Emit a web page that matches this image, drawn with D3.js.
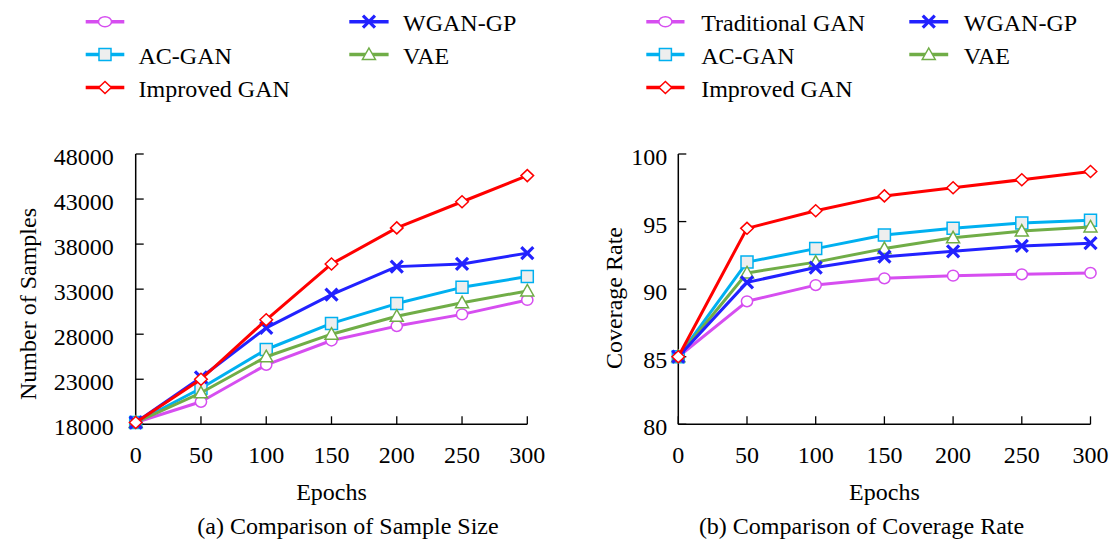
<!DOCTYPE html>
<html><head><meta charset="utf-8">
<script src="https://cdn.jsdelivr.net/npm/d3@7"></script>
<style>
html,body{margin:0;padding:0;background:#fff;}
svg text{font-family:"Liberation Serif","Times New Roman",serif;fill:#000;}
</style></head>
<body>
<svg id="chart" width="1114" height="542"></svg>
<script>
// ---------- data ----------
const epochs = [0, 50, 100, 150, 200, 250, 300];
const seriesNames = ["Traditional GAN", "AC-GAN", "VAE", "WGAN-GP", "Improved GAN"];
const seriesColors = ["#d64ef0", "#00b0f0", "#70ad47", "#2222ff", "#ff0000"];
const seriesMarkers = ["circle", "square", "triangle", "x", "diamond"];

const samplesTraditional = [18200, 20500, 24600, 27300, 28900, 30200, 31800];
const samplesACGAN       = [18200, 22000, 26300, 29200, 31400, 33200, 34400];
const samplesVAE         = [18200, 21500, 25500, 28000, 30000, 31500, 32800];
const samplesWGAN        = [18200, 23200, 28700, 32400, 35500, 35800, 37000];
const samplesImproved    = [18200, 23000, 29600, 35800, 39800, 42700, 45600];

const coverageTraditional = [85, 89.1, 90.3, 90.8, 91.0, 91.1, 91.2];
const coverageACGAN       = [85, 92.0, 93.0, 94.0, 94.5, 94.9, 95.1];
const coverageVAE         = [85, 91.2, 92.0, 93.0, 93.8, 94.3, 94.6];
const coverageWGAN        = [85, 90.5, 91.6, 92.4, 92.8, 93.2, 93.4];
const coverageImproved    = [85, 94.5, 95.8, 96.9, 97.5, 98.1, 98.7];

const samplesTicks = [18000, 23000, 28000, 33000, 38000, 43000, 48000];
const coverageTicks = [80, 85, 90, 95, 100];
const epochTicks = [0, 50, 100, 150, 200, 250, 300];

// legend labels per panel (panel a lacks the first label)
const legendLabelsA = ["", "AC-GAN", "VAE", "WGAN-GP", "Improved GAN"];
const legendLabelsB = ["Traditional GAN", "AC-GAN", "VAE", "WGAN-GP", "Improved GAN"];
// legend slot (col,row) per series
const legendSlots = [[0,0],[0,1],[1,1],[1,0],[0,2]];

const svg = d3.select("#chart");

function markerPath(shape) {
  switch (shape) {
    case "square": return "M-6,-6H6V6H-6Z";
    case "triangle": return "M0,-6.5L6.5,5L-6.5,5Z";
    case "diamond": return "M0,-6L6.3,0L0,6L-6.3,0Z";
    case "x": return "M-6,-6L6,6M-6,6L6,-6";
    default: return null;
  }
}
function drawMarker(g, shape, color, x, y, legend) {
  if (shape === "circle") {
    g.append("ellipse").attr("cx", x).attr("cy", y)
      .attr("rx", legend ? 6.5 : 5.6).attr("ry", legend ? 5 : 5.4)
      .attr("fill", "#fff").attr("stroke", color).attr("stroke-width", 1.5);
  } else if (shape === "x") {
    g.append("path").attr("transform", `translate(${x},${y})`).attr("d", markerPath(shape))
      .attr("fill", "none").attr("stroke", color).attr("stroke-width", 3.2);
  } else {
    g.append("path").attr("transform", `translate(${x},${y})`).attr("d", markerPath(shape))
      .attr("fill", shape === "square" ? "#eeeeee" : "#fff")
      .attr("stroke", color).attr("stroke-width", 1.5);
  }
}

function drawPanel(opt) {
  const g = svg.append("g");
  const x = d3.scaleLinear().domain([0, 300]).range([opt.x0, opt.x1]);
  const y = d3.scaleLinear().domain(opt.yDomain).range([424.3, 154]);

  // axes lines
  g.append("line").attr("x1", opt.x0).attr("x2", opt.x0).attr("y1", y.range()[1]).attr("y2", y.range()[0])
    .attr("stroke", "#000").attr("stroke-width", 1.5);
  g.append("line").attr("x1", opt.x0).attr("x2", opt.x1).attr("y1", y.range()[0]).attr("y2", y.range()[0])
    .attr("stroke", "#000").attr("stroke-width", 1.5);
  // y ticks (inward)
  opt.yTicks.forEach(t => {
    g.append("line").attr("x1", opt.x0).attr("x2", opt.x0 + 8).attr("y1", y(t)).attr("y2", y(t))
      .attr("stroke", "#000").attr("stroke-width", 1.3);
    g.append("text").attr("x", opt.x0 - opt.yLabelGap).attr("y", y(t) + 11)
      .attr("text-anchor", "end").attr("font-size", 24).text(t);
  });
  // x ticks (inward)
  epochTicks.forEach(t => {
    g.append("line").attr("x1", x(t)).attr("x2", x(t)).attr("y1", y.range()[0]).attr("y2", y.range()[0] - 8)
      .attr("stroke", "#000").attr("stroke-width", 1.3);
    g.append("text").attr("x", x(t)).attr("y", 463)
      .attr("text-anchor", "middle").attr("font-size", 24).text(t);
  });
  // axis titles
  g.append("text").attr("x", (opt.x0 + opt.x1) / 2).attr("y", 500)
    .attr("text-anchor", "middle").attr("font-size", 24).text("Epochs");
  g.append("text").attr("transform", `translate(${opt.yTitleX},${opt.yTitleY}) rotate(-90)`)
    .attr("text-anchor", "middle").attr("font-size", 24).text(opt.yTitle);
  g.append("text").attr("x", opt.captionX).attr("y", 534)
    .attr("text-anchor", "middle").attr("font-size", 24).text(opt.caption);

  // series lines
  const line = d3.line().x((d, i) => x(epochs[i])).y(d => y(d));
  opt.series.forEach((vals, si) => {
    g.append("path").attr("d", line(vals)).attr("fill", "none")
      .attr("stroke", seriesColors[si]).attr("stroke-width", 3).attr("stroke-linejoin", "round");
    vals.forEach((v, i) => drawMarker(g, seriesMarkers[si], seriesColors[si], x(epochs[i]), y(v), false));
  });

  // legend
  const lg = svg.append("g");
  opt.legendLabels.forEach((lab, si) => {
    const [c, r] = legendSlots[si];
    const col = opt.legendCols[c];
    const ly = [21.7, 54.5, 87.5][r];
    lg.append("line").attr("x1", col.l0).attr("x2", col.l1).attr("y1", ly).attr("y2", ly)
      .attr("stroke", seriesColors[si]).attr("stroke-width", 3.5);
    drawMarker(lg, seriesMarkers[si], seriesColors[si], (col.l0 + col.l1) / 2, ly, true);
    lg.append("text").attr("x", col.t).attr("y", ly + 9).attr("font-size", 24).text(lab);
  });
}

drawPanel({
  x0: 135.7, x1: 527.3, yDomain: [18000, 48000], yTicks: samplesTicks, yLabelGap: 22,
  yTitle: "Number of Samples", yTitleX: 36, yTitleY: 304,
  caption: "(a) Comparison of Sample Size", captionX: 348,
  series: [samplesTraditional, samplesACGAN, samplesVAE, samplesWGAN, samplesImproved],
  legendLabels: legendLabelsA,
  legendCols: [{l0: 85.7, l1: 124.3, t: 138.5}, {l0: 349.3, l1: 388.6, t: 403}]
});
drawPanel({
  x0: 678.3, x1: 1090.5, yDomain: [80, 100], yTicks: coverageTicks, yLabelGap: 11,
  yTitle: "Coverage Rate", yTitleX: 622, yTitleY: 298,
  caption: "(b) Comparison of Coverage Rate", captionX: 861.5,
  series: [coverageTraditional, coverageACGAN, coverageVAE, coverageWGAN, coverageImproved],
  legendLabels: legendLabelsB,
  legendCols: [{l0: 646.3, l1: 684.5, t: 701.2}, {l0: 909.3, l1: 948.2, t: 963.8}]
});
</script>
</body></html>
